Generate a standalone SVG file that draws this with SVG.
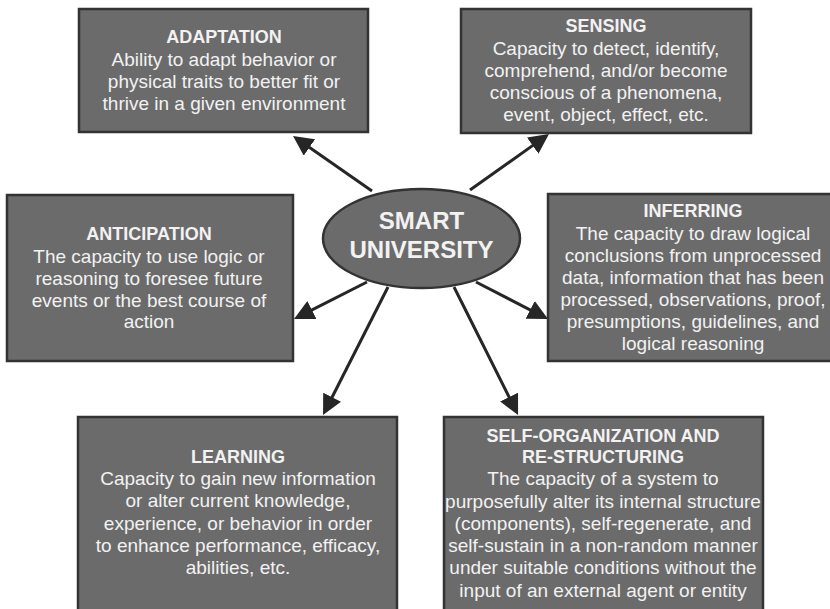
<svg xmlns="http://www.w3.org/2000/svg" width="830" height="609" viewBox="0 0 830 609">
<style>
.box{fill:#6b6b6b;stroke:#333;stroke-width:2.5}
.oval{fill:#6b6b6b;stroke:#333;stroke-width:2.5}
text{font-family:"Liberation Sans",Arial,Helvetica,sans-serif;fill:#f2f2f2;text-anchor:middle}
.t{font-size:18px;font-weight:bold}
.b{font-size:19px}
.c{font-size:24px;font-weight:bold}
.con line{stroke:#262626;stroke-width:3;marker-end:url(#ah)}
</style>
<defs>
<marker id="ah" viewBox="0 0 20 20" refX="2" refY="10" markerWidth="20" markerHeight="20" markerUnits="userSpaceOnUse" orient="auto">
<path d="M0,0 L20,10 L0,20 z" fill="#262626"/>
</marker>
</defs>
<rect width="830" height="609" fill="#fff"/>
<g id="connectors" class="con">
<line x1="372" y1="191" x2="307.8" y2="146.3"/>
<line x1="470" y1="190" x2="534.3" y2="144.4"/>
<line x1="367" y1="282" x2="310.1" y2="310.9"/>
<line x1="476" y1="282" x2="532" y2="310.8"/>
<line x1="388" y1="287" x2="331.2" y2="399"/>
<line x1="454" y1="287" x2="510" y2="398.9"/>
</g>
<g id="adaptation">
<rect class="box" x="79" y="9" width="289" height="123"/>
<text class="t" x="224" y="43">ADAPTATION</text>
<text class="b" x="224" y="66">Ability to adapt behavior or</text>
<text class="b" x="224" y="88">physical traits to better fit or</text>
<text class="b" x="224" y="110">thrive in a given environment</text>
</g>
<g id="sensing">
<rect class="box" x="461" y="9" width="290" height="124"/>
<text class="t" x="606" y="32">SENSING</text>
<text class="b" x="606" y="55">Capacity to detect, identify,</text>
<text class="b" x="606" y="77">comprehend, and/or become</text>
<text class="b" x="606" y="99">conscious of a phenomena,</text>
<text class="b" x="606" y="121">event, object, effect, etc.</text>
</g>
<g id="anticipation">
<rect class="box" x="7" y="195" width="286" height="166"/>
<text class="t" x="149" y="240">ANTICIPATION</text>
<text class="b" x="149" y="263">The capacity to use logic or</text>
<text class="b" x="149" y="285">reasoning to foresee future</text>
<text class="b" x="149" y="307">events or the best course of</text>
<text class="b" x="149" y="328">action</text>
</g>
<g id="inferring">
<rect class="box" x="548" y="194" width="290" height="167"/>
<text class="t" x="693" y="217">INFERRING</text>
<text class="b" x="693" y="240">The capacity to draw logical</text>
<text class="b" x="693" y="262">conclusions from unprocessed</text>
<text class="b" x="693" y="284">data, information that has been</text>
<text class="b" x="693" y="306">processed, observations, proof,</text>
<text class="b" x="693" y="328">presumptions, guidelines, and</text>
<text class="b" x="693" y="350">logical reasoning</text>
</g>
<g id="learning">
<rect class="box" x="78" y="417" width="319" height="200"/>
<text class="t" x="238" y="463">LEARNING</text>
<text class="b" x="238" y="485">Capacity to gain new information</text>
<text class="b" x="238" y="507">or alter current knowledge,</text>
<text class="b" x="238" y="530">experience, or behavior in order</text>
<text class="b" x="238" y="552">to enhance performance, efficacy,</text>
<text class="b" x="238" y="574">abilities, etc.</text>
</g>
<g id="self-organization">
<rect class="box" x="444" y="417" width="319" height="200"/>
<text class="t" x="603" y="442">SELF-ORGANIZATION AND</text>
<text class="t" x="603" y="463">RE-STRUCTURING</text>
<text class="b" x="603" y="485">The capacity of a system to</text>
<text class="b" x="603" y="508">purposefully alter its internal structure</text>
<text class="b" x="603" y="530">(components), self-regenerate, and</text>
<text class="b" x="603" y="552">self-sustain in a non-random manner</text>
<text class="b" x="603" y="574">under suitable conditions without the</text>
<text class="b" x="603" y="597">input of an external agent or entity</text>
</g>
<g id="smart-university">
<ellipse class="oval" cx="421.5" cy="238.5" rx="98.5" ry="49.5"/>
<text class="c" x="421.5" y="229">SMART</text>
<text class="c" x="421.5" y="258">UNIVERSITY</text>
</g>
</svg>
